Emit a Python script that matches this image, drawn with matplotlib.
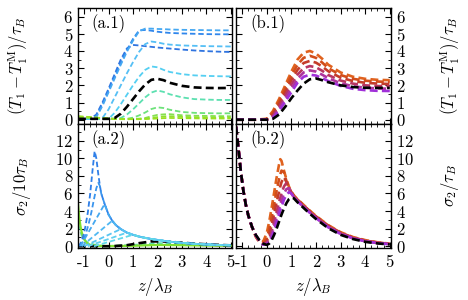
import matplotlib
matplotlib.use("Agg")
import matplotlib.pyplot as plt
from matplotlib.ticker import MultipleLocator

plt.rcParams['font.family'] = ['cmr10', 'DejaVu Serif']
plt.rcParams['mathtext.fontset'] = 'cm'
plt.rcParams['axes.unicode_minus'] = False
plt.rcParams['axes.formatter.use_mathtext'] = True

# ---------------- data ----------------
# panel a.1 : shared z grid
a1_z = [-1.25, -1.0, -0.75, -0.5, -0.25, 0.0, 0.25, 0.5, 0.75, 1.0, 1.25, 1.5,
        1.75, 2.0, 2.25, 2.5, 3.0, 3.5, 4.0, 4.5, 5.0]
a1_curves = [
    [0.05, 0.05, 0.05, 0.3, 1.0, 1.8, 2.65, 3.5, 4.15, 4.35, 4.32, 4.28, 4.24, 4.2, 4.17, 4.14, 4.08, 4.03, 3.99, 3.96, 3.94],
    [0.05, 0.05, 0.05, 0.2, 0.9, 1.7, 2.5, 3.3, 4.05, 4.7, 5.2, 5.22, 5.18, 5.12, 5.08, 5.05, 5.02, 5.0, 4.98, 4.97, 4.97],
    [0.05, 0.05, 0.05, 0.15, 0.8, 1.6, 2.4, 3.2, 3.95, 4.6, 5.15, 5.3, 5.3, 5.28, 5.27, 5.25, 5.23, 5.22, 5.21, 5.2, 5.2],
    [0.05, 0.05, 0.05, 0.05, 0.1, 0.6, 1.3, 2.0, 2.7, 3.35, 3.95, 4.4, 4.55, 4.5, 4.42, 4.37, 4.32, 4.3, 4.28, 4.27, 4.26],
    [0.05, 0.05, 0.05, 0.05, 0.05, 0.05, 0.4, 0.9, 1.45, 2.0, 2.5, 2.9, 3.1, 3.05, 2.9, 2.78, 2.65, 2.58, 2.55, 2.53, 2.52],
    [0.1, 0.1, 0.1, 0.08, 0.07, 0.06, 0.06, 0.1, 0.3, 0.6, 0.95, 1.3, 1.58, 1.7, 1.62, 1.48, 1.3, 1.2, 1.17, 1.15, 1.15],
    [0.12, 0.12, 0.1, 0.08, 0.07, 0.06, 0.05, 0.05, 0.05, 0.12, 0.25, 0.42, 0.62, 0.72, 0.68, 0.58, 0.45, 0.4, 0.38, 0.37, 0.37],
    [0.15, 0.14, 0.12, 0.1, 0.08, 0.06, 0.05, 0.05, 0.05, 0.05, 0.06, 0.1, 0.2, 0.28, 0.31, 0.32, 0.26, 0.23, 0.22, 0.21, 0.2],
    [0.18, 0.16, 0.14, 0.12, 0.09, 0.07, 0.05, 0.04, 0.04, 0.04, 0.04, 0.06, 0.1, 0.15, 0.19, 0.2, 0.17, 0.14, 0.13, 0.12, 0.12],
    [0.2, 0.18, 0.15, 0.12, 0.09, 0.06, 0.04, 0.03, 0.03, 0.03, 0.03, 0.04, 0.05, 0.07, 0.09, 0.1, 0.09, 0.08, 0.07, 0.07, 0.07],
]
a1_black = [0.05, 0.05, 0.05, 0.05, 0.05, 0.05, 0.1, 0.35, 0.75, 1.2, 1.65, 2.05, 2.32, 2.38, 2.3, 2.15, 1.97, 1.88, 1.85, 1.84, 1.85]
a1_colors = ['#2f74e0', '#2f86ec', '#45a8f2', '#55bff5', '#55cff2', '#5ce0b0', '#6de27a', '#85e050', '#8fe030', '#9ae020']

# panel a.2 : each curve has its own z list
a2_tail_z = [-0.3, -0.16, 0.0, 0.15, 0.3, 0.5, 0.75, 1.0, 1.25, 1.5, 1.75, 2.0, 2.5, 3.0, 3.5, 4.0, 4.5, 5.0]
a2_tail_y = [6.0, 4.8, 3.6, 2.9, 2.4, 1.95, 1.55, 1.3, 1.1, 0.95, 0.82, 0.72, 0.52, 0.38, 0.28, 0.2, 0.15, 0.1]
a2_rise_z = [
    [-1.25, -1.15, -1.05, -0.95, -0.85, -0.75, -0.65, -0.57, -0.5, -0.42, -0.36],
    [-1.2, -1.1, -1.0, -0.9, -0.8, -0.7, -0.6, -0.5, -0.42, -0.36],
    [-1.15, -0.16],
    [-1.1, 0.15],
    [-1.0, 0.5],
    [-0.85, 0.75],
    [-0.6, 1.0],
]
a2_rise_y = [
    [0.0, 0.3, 1.0, 2.2, 3.8, 6.0, 8.8, 10.8, 10.0, 8.2, 7.0],
    [0.0, 0.3, 0.9, 1.7, 2.7, 3.9, 5.3, 6.6, 7.2, 6.9],
    [0.0, 4.8],
    [0.0, 2.9],
    [0.0, 1.95],
    [0.0, 1.55],
    [0.0, 1.3],
]
a2_colors = ['#2f7fe8', '#3a95ee', '#45a8f0', '#50b8f2', '#58c5f2', '#5fd0f0', '#62d8e8']
a2_black_z = [-1.25, 0.0, 0.25, 0.75, 1.25, 1.75, 2.25, 2.75, 3.5, 4.25, 5.0]
a2_black_y = [0.0, 0.0, 0.02, 0.12, 0.35, 0.55, 0.55, 0.45, 0.3, 0.18, 0.1]
a2_green_z = [-1.25, -1.2, -1.15, -1.1, -1.0, -0.9, -0.75, -0.5, 0.0, 1.0, 2.0, 3.0, 4.0, 5.0]
a2_green_y = [4.8, 3.3, 2.3, 1.6, 0.8, 0.4, 0.15, 0.05, 0.02, 0.05, 0.15, 0.12, 0.08, 0.05]
a2_teal_z = [-1.25, -1.1, -0.9, -0.5, 0.0, 1.0, 2.0, 3.0, 4.0, 5.0]
a2_teal_y = [2.5, 1.2, 0.5, 0.1, 0.03, 0.15, 0.35, 0.3, 0.18, 0.1]

# panel b.1
b1_z = [-1.25, -0.5, 0.0, 0.25, 0.5, 0.75, 1.0, 1.25, 1.5, 1.75, 2.0, 2.25, 2.5, 3.0, 3.5, 4.0, 4.5, 5.0]
b1_curves = [
    [0.0, 0.0, 0.05, 0.5, 1.2, 2.0, 2.8, 3.5, 3.9, 4.0, 3.85, 3.55, 3.2, 2.75, 2.5, 2.38, 2.32, 2.3],
    [0.0, 0.0, 0.03, 0.4, 1.05, 1.8, 2.55, 3.2, 3.6, 3.72, 3.6, 3.33, 3.0, 2.6, 2.38, 2.27, 2.22, 2.2],
    [0.0, 0.0, 0.02, 0.3, 0.9, 1.6, 2.3, 2.9, 3.3, 3.42, 3.32, 3.1, 2.82, 2.45, 2.25, 2.15, 2.1, 2.08],
    [0.0, 0.0, 0.01, 0.22, 0.75, 1.4, 2.05, 2.62, 3.0, 3.12, 3.05, 2.85, 2.6, 2.28, 2.1, 2.0, 1.96, 1.95],
    [0.0, 0.0, 0.0, 0.15, 0.62, 1.2, 1.82, 2.38, 2.75, 2.87, 2.8, 2.62, 2.42, 2.12, 1.95, 1.86, 1.82, 1.8],
    [0.0, 0.0, 0.0, 0.1, 0.5, 1.05, 1.6, 2.15, 2.5, 2.62, 2.57, 2.42, 2.25, 1.97, 1.8, 1.72, 1.68, 1.67],
]
b1_black = [0.0, 0.0, 0.0, 0.05, 0.3, 0.75, 1.25, 1.7, 2.1, 2.35, 2.4, 2.3, 2.18, 2.0, 1.9, 1.86, 1.85, 1.85]
b_colors = ['#e0621e', '#d24e1a', '#c43c2a', '#b83562', '#ae349e', '#a030d8']

# panel b.2
b2_z = [-1.25, -1.15, -1.05, -0.95, -0.85, -0.75, -0.6, -0.45, -0.3, -0.15, 0.0, 0.1, 0.2, 0.3, 0.4,
        0.5, 0.55, 0.6, 0.7, 0.8, 0.9, 1.0, 1.1, 1.25, 1.5, 1.75, 2.0, 2.5, 3.0, 3.5, 4.0, 4.5, 5.0]
b2_curves = [
    [13.6, 11.1, 8.4, 6.3, 4.7, 3.5, 2.2, 1.1, 0.45, 0.5, 1.5, 2.8, 4.4, 6.1, 7.8, 9.3, 9.9, 9.7, 8.6, 7.6, 6.8, 6.2, 5.8, 5.35, 4.7, 4.05, 3.45, 2.4, 1.6, 1.05, 0.7, 0.45, 0.3],
    [13.6, 11.1, 8.4, 6.3, 4.7, 3.5, 2.2, 1.15, 0.5, 0.35, 0.9, 1.9, 3.3, 4.8, 6.3, 7.6, 8.2, 8.6, 8.4, 7.4, 6.7, 6.15, 5.75, 5.3, 4.65, 4.0, 3.4, 2.35, 1.55, 1.0, 0.65, 0.42, 0.28],
    [13.6, 11.1, 8.4, 6.3, 4.7, 3.5, 2.2, 1.2, 0.55, 0.3, 0.6, 1.3, 2.4, 3.7, 5.0, 6.2, 6.8, 7.3, 7.85, 7.3, 6.6, 6.1, 5.7, 5.25, 4.6, 3.95, 3.35, 2.3, 1.5, 0.97, 0.62, 0.4, 0.26],
    [13.6, 11.1, 8.4, 6.3, 4.7, 3.5, 2.2, 1.22, 0.6, 0.25, 0.4, 0.9, 1.7, 2.8, 3.9, 5.0, 5.5, 6.0, 6.8, 7.2, 6.6, 6.0, 5.65, 5.2, 4.55, 3.9, 3.3, 2.25, 1.47, 0.95, 0.6, 0.38, 0.25],
    [13.6, 11.1, 8.4, 6.3, 4.7, 3.5, 2.2, 1.25, 0.62, 0.2, 0.3, 0.65, 1.3, 2.2, 3.2, 4.2, 4.7, 5.2, 6.0, 6.5, 6.6, 6.0, 5.6, 5.15, 4.5, 3.85, 3.25, 2.2, 1.43, 0.92, 0.58, 0.37, 0.24],
    [13.6, 11.1, 8.4, 6.3, 4.7, 3.5, 2.2, 1.28, 0.65, 0.18, 0.2, 0.45, 1.0, 1.8, 2.7, 3.6, 4.1, 4.5, 5.3, 5.85, 6.15, 6.0, 5.6, 5.1, 4.45, 3.8, 3.2, 2.15, 1.4, 0.9, 0.56, 0.36, 0.23],
]
b2_black = [13.6, 11.1, 8.4, 6.3, 4.7, 3.5, 2.2, 1.3, 0.7, 0.3, 0.15, 0.3, 0.7, 1.3, 2.0, 2.8, 3.2, 3.6, 4.3, 4.9, 5.35, 5.55, 5.45, 5.0, 4.35, 3.7, 3.1, 2.05, 1.3, 0.82, 0.5, 0.32, 0.2]

x_ticks = [-1, 0, 1, 2, 3, 4, 5]
top_yticks = [0, 1, 2, 3, 4, 5, 6]
bot_yticks = [0, 2, 4, 6, 8, 10, 12]

# ---------------- figure ----------------
W, H = 468, 300
fig = plt.figure(figsize=(W / 100, H / 100), dpi=100)

def box(x0, y0, x1, y1):
    return [x0 / W, 1 - y1 / H, (x1 - x0) / W, (y1 - y0) / H]

ax_a1 = fig.add_axes(box(78, 8, 232, 124))
ax_b1 = fig.add_axes(box(236, 8, 391, 124))
ax_a2 = fig.add_axes(box(78, 124, 232, 248))
ax_b2 = fig.add_axes(box(236, 124, 391, 248))

dash = (0, (3.0, 1.6))
lw_a = 1.3
lw_b = 1.9

for ys, c in zip(a1_curves, a1_colors):
    ax_a1.plot(a1_z, ys, color=c, lw=lw_a, ls=dash)
ax_a1.plot(a1_z, a1_black, color='black', lw=1.9, ls=dash)

ax_a2.plot(a2_teal_z, a2_teal_y, color='#5ce0b0', lw=lw_a, ls=dash)
ax_a2.plot(a2_green_z, a2_green_y, color='#80e030', lw=1.6, ls='-')
ax_a2.plot(a2_black_z, a2_black_y, color='black', lw=1.9, ls=dash)
for zs, ys, c in zip(a2_rise_z, a2_rise_y, a2_colors):
    zz = list(zs)
    yy = list(ys)
    for tz, tv in zip(a2_tail_z, a2_tail_y):
        if tz > zz[-1]:
            zz.append(tz)
            yy.append(tv)
    ax_a2.plot(zz, yy, color=c, lw=lw_a, ls=dash)

for ys, c in zip(b1_curves, b_colors):
    ax_b1.plot(b1_z, ys, color=c, lw=lw_b, ls=dash)
ax_b1.plot(b1_z, b1_black, color='black', lw=lw_b, ls=dash)

for ys, c in zip(b2_curves, b_colors):
    ax_b2.plot(b2_z, ys, color=c, lw=lw_b, ls=dash)
ax_b2.plot(b2_z, b2_black, color='black', lw=lw_b, ls=dash)

fs_tick = 12
for ax in (ax_a1, ax_b1, ax_a2, ax_b2):
    ax.set_xlim(-1.25, 5.05)
    ax.set_xticks(x_ticks)
    ax.xaxis.set_minor_locator(MultipleLocator(0.25))
    ax.tick_params(which='both', direction='in', top=True, right=True, labelsize=fs_tick)
    ax.tick_params(which='major', length=4, width=0.8)
    ax.tick_params(which='minor', length=2, width=0.6)
    for s in ax.spines.values():
        s.set_linewidth(1.0)

for ax in (ax_a1, ax_b1):
    ax.set_ylim(-0.25, 6.5)
    ax.set_yticks(top_yticks)
    ax.yaxis.set_minor_locator(MultipleLocator(0.5))
    ax.tick_params(labelbottom=False)
for ax in (ax_a2, ax_b2):
    ax.set_ylim(-0.2, 13.9)
    ax.set_yticks(bot_yticks)
    ax.yaxis.set_minor_locator(MultipleLocator(1))
    ax.set_xticklabels([str(v) for v in x_ticks])
    ax.tick_params(axis='x', pad=5)
for ax in (ax_b1, ax_b2):
    ax.tick_params(labelleft=False, labelright=True)

for ax, lab in ((ax_a1, '(a.1)'), (ax_b1, '(b.1)'), (ax_a2, '(a.2)'), (ax_b2, '(b.2)')):
    ax.text(0.09, 0.95, lab, transform=ax.transAxes, ha='left', va='top', fontsize=12)

ylab_top = r'$(T_1 - T_1^{\rm M})/\tau_B$'
fig.text(18 / W, 1 - 66 / H, ylab_top, rotation=90, ha='center', va='center', fontsize=12)
fig.text(22 / W, 1 - 186 / H, r'$\sigma_2/10\tau_B$', rotation=90, ha='center', va='center', fontsize=12)
fig.text(450 / W, 1 - 66 / H, ylab_top, rotation=90, ha='center', va='center', fontsize=12)
fig.text(450 / W, 1 - 186 / H, r'$\sigma_2/\tau_B$', rotation=90, ha='center', va='center', fontsize=12)
fig.text(155 / W, 1 - 287 / H, r'$z/\lambda_B$', ha='center', va='center', fontsize=12)
fig.text(313 / W, 1 - 287 / H, r'$z/\lambda_B$', ha='center', va='center', fontsize=12)

fig.savefig('out.png', dpi=100)
